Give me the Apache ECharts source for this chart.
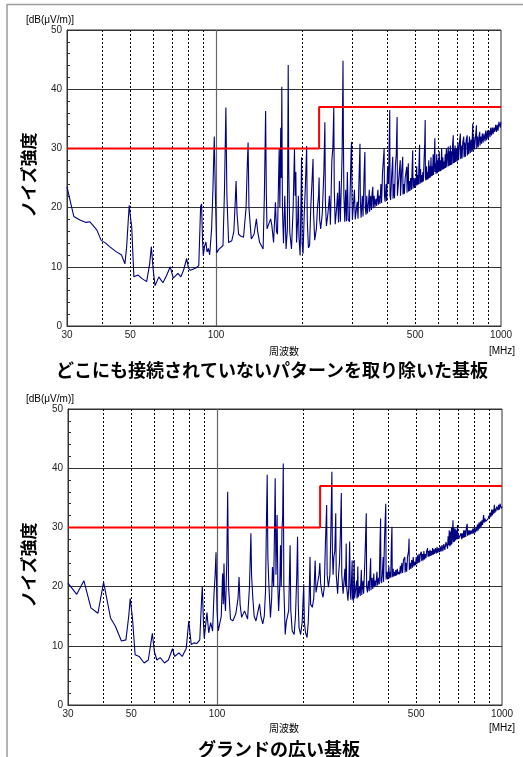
<!DOCTYPE html>
<html><head><meta charset="utf-8">
<script src="https://cdn.jsdelivr.net/npm/echarts@6/dist/echarts.min.js"></script>
<style>html,body{margin:0;padding:0;background:#fff}#c{width:523px;height:757px}</style>
</head><body><div id="c"></div>
<script>
// ---- axis / tick definitions ----
const xLabelValues = [30, 50, 100, 500, 1000];
const majorGridX = [100];
const minorGridX = [40, 50, 60, 70, 80, 90, 200, 300, 400, 500, 600, 700, 800, 900];
// ---- limit line (VCCI) ----
const limitLine = [[30, 30], [230, 30], [230, 37], [1000, 37]];
// ---- titles ----
const title1 = 'どこにも接続されていないパターンを取り除いた基板';
const title2 = 'グランドの広い基板';
const yName = 'ノイズ強度';
const yUnit = '[dB(μV/m)]';
const xName = '周波数';
const xUnit = '[MHz]';

// ---- spectrum 1: [MHz, dB(uV/m)] ----
const spectrum1 = [
[30,23.5],[31,20.5],[31.7,18.5],[33.3,17.9],[35,17.5],[36.1,17.6],[37,17.0],[38.2,16.2],[39.5,14.5],[41,14.0],[42.3,13.4],[44.5,12.6],[46.6,12.0],[47.9,10.5],[48.6,13.5],[49.3,18.5],[49.6,20.4],[50.2,18.0],[50.6,16.8],[51.5,8.3],[53.3,8.6],[55,8.0],[57.1,7.5],[58.5,10.5],[59.3,13.4],[60.2,9.5],[61.1,6.8],[63,8.3],[65.1,7.3],[67,8.5],[69.1,10.0],[70.8,8.1],[73.5,8.9],[75.3,8.3],[77,9.5],[78.9,11.4],[80,9.8],[81.2,9.4],[83,9.6],[85,9.8],[87,10.2],[88.3,20.2],[89,20.6],[89.6,15],[90.2,11.9],[91.2,13.5],[92.2,14.2],[93,12.5],[94,13.1],[95,12.0],[96.5,16.4],[97.5,22.8],[98.6,32],[99.3,24],[100.6,12.4],[102.5,13],[104,13.2],[105.8,13.6],[107.1,23.1],[108.3,36.9],[109.2,22],[110.7,14.1],[113.6,14.4],[115.5,16],[116.8,21],[117.6,24.5],[118.5,19],[120,15.5],[122,15.2],[124.9,15],[127.5,20],[128.7,27],[129.6,31],[130.5,20],[133,14.7],[136,15.5],[138.6,18.1],[140,16],[142.3,14.1],[144.5,13.5],[146.3,13],[147.8,22],[149.3,36.3],[150.2,22],[151,16.4],[153,16.4],[155.5,18.1],[157,17],[159.2,14.1],[161.6,20.9],[163,16],[164.3,15.5],[166.6,29.9],[167.5,20],[168.7,33.5],[169.5,25],[170.2,40.4],[171,20],[172.5,14],[174.3,22],[176.1,13],[178,16.4],[179.2,44.1],[180,26],[181.5,15.8],[184,13],[186.5,20],[188.5,29.9],[189.5,22],[190.6,26],[191.7,14.1],[193.5,18],[194.5,22],[195.5,15],[197.3,11.9],[198.8,22],[199.6,28.5],[200.5,14],[202,12.2],[204,19],[206,24],[208,30.4],[209,18],[211,13.2],[213,13.6],[215,20],[217,24],[219,28.2],[220,19],[222,14.5],[225,16.4],[227,20],[229,22],[230,25.1],[231,18],[233,16.4],[236,19],[239,26],[241,34.4],[242,21],[244,16.9],[247,19],[250,22],[252,17.1],[255,28],[257,30],[259,36.9],[260,23],[262,17.2],[265,20],[267,22.5],[269,17.5],[271,24.5],[273,17.6],[275,23],[277,29],[279,44.8],[280,31],[281,22],[283,17.6],[285,23],[287,17.7],[289,26],[291,18],[294,17.6],[296,24],[298,29.9],[299,31.1],[300,22],[301,17.9],
[303,17.7],[306,23],[308,18],[310,17.8],[313,21],[315,18.1],[318,26],[320,30.8],[321,21],[323,18.3],[326,22],[328,18.5],[331,26],[333,29.4],[334,20],[336,18.8],[338,22],[340,19],[343,21],[345,23],[346,19.3],[349,22],[351,19.6],[353,22.5],[355,23.5],[356,19.9],[359,22],[361,20.1],[364,21.5],[366,20.3],[369,22.5],[370,23],[371,20.5],[374,22],[376,20.6],[379,24],[381,20.8],[384,26],[386,27.5],[389,30],[390,22],[392,21],[395,24],[397,21.1],[400,27],[403,24],[407,36.5],[408,22],[410,21.3],[413,25],[417,28.6],[418,21.5],[421,24],[423,21.6],[426,27],[429,29],[432,35.3],[433,22],[435,21.8],[438,25],[443,28],[444,22],[448,26],[452,28.6],[453,22.2],[456,24],[458,22.3],[461,25],[467,26.9],[468,22.5],[470,25],[473,27.5],[474,22.7],[477,24.5],[479,22.8],[482,25],[485,23],[488,27],[490,29.7],[491,23.2],[494,25],[497,23.3],[500,25],
[503,23.6],[506,27],[508,23.8],[511,25.5],[513,23.9],[516,28],[518,30.6],[519,24],[522,26.5],[524,24.2],[527,25.5],[529,24.3],[532,26],[534,24.4],[537,28],[540,31],[542,34.8],[543,25],[545,24.6],[548,27],[550,24.7],[553,26],[555,24.8],[558,28],[560,25],[563,27],[565,25.1],[568,28.5],[570,25.3],[573,27],[575,25.4],[578,29],[580,25.5],[583,28],[586,31.7],[587,26],[590,27.5],[592,25.7],[595,29],[598,25.8],[601,28],[604,26],[607,29.5],[610,26.1],[613,28],[616,26.2],[619,30],[622,26.4],[625,28.5],[628,26.5],[631,27.8],[634,26.6],[637,29],[640,26.7],[643,30],[646,26.9],[650,29],[653,30.3],[655,27],[658,29.5],[661,27.1],[664,30.5],[667,27.2],[670,29.5],[673,27.3],[676,30.5],[680,32.2],[681,27.5],[684,30],[687,27.6],[690,30.5],[694,27.7],[698,30],[702,27.8],[706,31],[710,28],[715,31],[720,32.5],[722,28.2],[726,30.5],[730,28.3],[734,31],[740,32],[742,28.5],[746,31],[750,28.6],[755,31.5],[761,32.2],[762,28.8],[766,31],[770,29],[775,32],[780,29.2],[785,31.5],[790,29.4],[796,34.2],[798,29.6],[803,32],[808,29.8],[814,32],[820,33.9],[822,30],[827,32],[832,30.2],[837,32],[842,32.8],[844,30.5],[850,32],[855,30.8],[860,32.5],[866,31],[871,32.5],[877,32.2],[879,31.2],[884,33],[890,31.4],[896,33],[902,31.6],[908,33],[913,32.5],[915,31.9],[920,33.5],[926,32.2],[932,33.5],[938,32.4],[944,33.5],[950,32.8],[952,32.6],[958,34],[964,32.8],[970,34],[976,33],[983,34.5],[990,34.8],[994,33.5],[1000,34.5]
];

// ---- spectrum 2: [MHz, dB(uV/m)] ----
const spectrum2 = [
[30,20.6],[32.2,18.7],[34.1,21.0],[36.1,16.4],[38.2,15.5],[40,20.7],[42.3,14.7],[44,13.3],[46.2,10.8],[47.9,11.0],[49,15],[49.6,18.0],[50.5,14.7],[51.6,8.5],[53.3,8.2],[55.5,7.1],[57.4,7.6],[59.3,12.1],[60.3,9],[61.5,7.6],[63.2,8.0],[65.4,7.1],[67.5,7.6],[69.8,9.5],[71,8.2],[73.5,8.8],[75.5,8.2],[78,9.6],[79.6,14.2],[81.2,10.2],[83,10.5],[85,10.4],[87,11.0],[88.3,18],[88.8,20.1],[89.6,14],[90.2,11.3],[92.2,15.6],[93.5,12.2],[95,13.9],[96.5,12.5],
[97.6,18.8],[98.5,22],[99.2,25.8],[100,16],[101,12.5],[102.4,12.5],[103.5,15],[104.6,22.2],[105.2,17],[105.8,23.9],[106.4,18],[107.1,15.9],[108.2,24],[109,36],[109.8,20],[111.5,14.5],[113.6,14.2],[116.4,15.4],[118.5,18],[119.5,21.6],[120.5,17],[122,14.8],[124.9,15.9],[128,14.5],[130,20],[131.5,29],[132.2,22],[133.5,18.2],[135,15],[137,14.2],[139.5,16],[141,17.1],[142.5,15],[144.7,13.7],[146.5,15],[148,19.3],[149,30],[150,38.9],[150.8,25],[152,20.5],[154,14.8],[155.5,18],[156.5,23.3],[158,20],[159.2,30],[160,38.3],[161,22],[162.5,32.1],[163.5,20],[164.5,15.9],[166,20],[167,27],[168,20],[169,29.5],[170,32],[170.8,40.8],[171.6,20],[173.5,11.9],[175,14],[176.5,13.7],[178.5,16],[180.5,27],[181.5,16],[183.6,12.5],[186.5,11.9],[188.5,15],[190.5,22],[191.7,28.4],[192.8,17],[194,13.1],[196.5,11.9],[199,14],[201.5,20.4],[202.5,14],[204.5,12.2],[207,11.4],[209,14],[210.5,18],[212,25],[213,17],[216,16.5],[218.5,18],[220,22],[221,24.4],[222.5,19],[225.5,19.3],[228,22],[229.5,24],[231,20.5],[233.5,19],[235.5,18.2],[238,20],[240,27],[242.5,33.8],[243.5,22],[246,19.9],[249,22],[251,30],[253,39.4],[254,26],[255.5,22],[257,25],[259,26],[261,32.4],[262,22],[265,18.8],[267,22],[269,24],[271,29],[273,35.8],[274,22],[277,18.8],[279,21],[281,23],[282.5,20],[284,27.3],[285,20],[288,17.6],[290,20],[292,27.6],[293.5,19],[295,17.8],[298,24.4],[299,18],[301,17.6],
[303,24.5],[304,18],[306,17.7],[309,21],[310,18],[312,23.4],[313,18.2],[316,20],[318,18.4],[321,22.8],[322,18.6],[325,21],[327,18.8],[330,24],[332,28],[334,32.4],[335,20],[337,19],[340,21],[342,19.2],[346,24.8],[347,19.4],[350,21.5],[352,19.6],[355,22.2],[356,19.9],[359,21],[361,20],[364,22.5],[366,20.2],[369,21.5],[371,20.4],[373,27],[375,31.5],[376,21],[378,20.6],[380,22],[383,25],[384,20.8],[387,28],[389,31],[391,34],[392,21.2],[395,22.5],[397,21.2],[401,23.4],[402,21.4],[405,22.5],[407,21.5],[409,27],[411,30.1],[412,21.6],[415,23],[417,21.7],[420,22.5],[422,21.8],[424,22.8],[426,21.9],[429,23],[431,22],[433,22.5],[436,22.8],[437,22.1],[440,23.5],[442,22.2],[445,24],[448,22.3],[451,24.5],[456,25],[457,22.4],[460,24],[463,22.5],[466,25],[470,26],[472,28.1],[473,22.8],[476,24],[479,23],[482,24.5],[485,23.2],[488,25],[491,23.4],[495,24.2],[497,23.6],[500,25],
[503,23.8],[505,25.3],[508,24],[511,25.5],[514,24.1],[517,25.5],[521,25.9],[523,24.3],[526,25.5],[529,24.4],[532,26],[535,24.6],[538,25.5],[541,24.8],[544,26],[548,26.5],[550,25],[553,26],[556,25.1],[559,26.2],[562,25.2],[565,26],[568,25.3],[571,26.5],[574,25.4],[577,26.3],[580,25.5],[584,26.5],[588,25.6],[592,26.7],[595,25.7],[599,26.5],[603,25.8],[607,26.8],[611,25.9],[616,27],[620,26],[625,27.2],[630,26.2],[636,27.5],[641,27.6],[644,26.4],[647,28.5],[650,27],[653,29.5],[656,26.8],[660,29.3],[662,27],[665,30],[667,27.2],[670,29],[673,31.2],[675,27.5],[678,30],[681,27.6],[685,29.8],[688,27.8],[691,29.5],[694,28],[698,30.4],[700,28],[703,29],[706,28.1],[711,28.4],[714,27.9],[718,29],[722,28],[726,29],[730,28.2],[734,29.5],[738,28.3],[742,29.5],[746,28.4],[750,30],[755,30.6],[757,28.6],[762,29.5],[766,28.7],[770,29.5],[775,28.8],[780,29.5],[785,28.9],[790,29.8],[795,29],[800,30],[805,29.1],[812,30.1],[816,29.3],[820,30.5],[825,29.5],[830,30.8],[835,29.8],[840,31],[845,30.1],[850,31.2],[855,30.4],[862,32.1],[866,30.8],[871,31.5],[877,31],[885,31.2],[890,31.2],[895,31.5],[900,32],[905,31.6],[910,32.5],[915,31.8],[920,33],[925,32],[930,33],[935,32.3],[940,33.8],[944,32.5],[948,33.2],[952,32.7],[958,33.5],[964,33.5],[968,32.9],[972,33.8],[978,33],[984,34],[990,34.3],[994,33.2],[1000,33.5]
];

const numFont = '"Liberation Sans", Arial, sans-serif';
const jpFont = '"Noto Sans CJK JP", sans-serif';

const grids = [
  {left: 67, top: 30, width: 434, height: 296},
  {left: 68, top: 409, width: 434, height: 296}
];

function xAxesFor(gi) {
  return [{
    type: 'log', logBase: 10, gridIndex: gi, min: 30, max: 1000,
    axisLine: {show: true, lineStyle: {color: '#333'}},
    axisTick: {show: false, customValues: majorGridX},
    axisLabel: {customValues: xLabelValues, fontSize: 10, color: '#222', fontFamily: numFont, margin: 4,
      formatter: v => String(Math.round(v))},
    splitLine: {show: true, lineStyle: {color: '#666', width: 1.2}},
    minorTick: {show: false}, minorSplitLine: {show: false}
  }, {
    type: 'log', logBase: 10, gridIndex: gi, min: 30, max: 1000,
    axisLine: {show: false},
    axisTick: {show: false, customValues: minorGridX},
    axisLabel: {show: false},
    splitLine: {show: true, lineStyle: {color: '#000', type: [2, 2], width: 1}},
    minorTick: {show: false}, minorSplitLine: {show: false}
  }];
}
function yAxisFor(gi) {
  return {
    type: 'value', gridIndex: gi, min: 0, max: 50, interval: 10,
    axisLine: {show: true, lineStyle: {color: '#333'}},
    axisTick: {show: true, inside: true, length: 4, lineStyle: {color: '#333'}},
    minorTick: {show: true, splitNumber: 5, length: 3, lineStyle: {color: '#333'}},
    axisLabel: {fontSize: 10, color: '#222', margin: 5, fontFamily: numFont},
    splitLine: {show: true, lineStyle: {color: '#333', width: 1}}
  };
}

function txt(x, y, text, size, opts) {
  return {
    type: 'text', x: x, y: y, silent: true,
    style: Object.assign({text: text, fill: '#000', font: size + 'px ' + jpFont, textAlign: 'center', textVerticalAlign: 'middle'}, opts || {})
  };
}

const chart = echarts.init(document.getElementById('c'), null, {renderer: 'canvas'});
chart.setOption({
  animation: false,
  backgroundColor: '#fff',
  grid: grids.map(g => Object.assign({show: true, borderColor: '#333', borderWidth: 1, backgroundColor: 'transparent'}, g)),
  xAxis: xAxesFor(0).concat(xAxesFor(1)),
  yAxis: [yAxisFor(0), yAxisFor(1)],
  series: [
    {type: 'line', xAxisIndex: 0, yAxisIndex: 0, data: spectrum1, symbol: 'none', color: '#000080', lineStyle: {color: '#000080', width: 1.1}, z: 3},
    {type: 'line', xAxisIndex: 0, yAxisIndex: 0, data: limitLine, symbol: 'none', color: '#ff0000', lineStyle: {color: '#ff0000', width: 2}, z: 4},
    {type: 'line', xAxisIndex: 2, yAxisIndex: 1, data: spectrum2, symbol: 'none', color: '#000080', lineStyle: {color: '#000080', width: 1.1}, z: 3},
    {type: 'line', xAxisIndex: 2, yAxisIndex: 1, data: limitLine, symbol: 'none', color: '#ff0000', lineStyle: {color: '#ff0000', width: 2}, z: 4}
  ],
  graphic: [
    {type: 'line', shape: {x1: 7, y1: 4.5, x2: 523, y2: 4.5}, style: {stroke: '#9a9a9a', lineWidth: 1.5}, silent: true},
    {type: 'line', shape: {x1: 7, y1: 4, x2: 7, y2: 757}, style: {stroke: '#9a9a9a', lineWidth: 1.5}, silent: true},
    txt(50, 20, yUnit, 10, {font: '10px ' + numFont}),
    txt(50, 399, yUnit, 10, {font: '10px ' + numFont}),
    Object.assign(txt(29, 175, yName, 17, {font: 'bold 17px ' + jpFont}), {rotation: Math.PI / 2}),
    Object.assign(txt(29, 565, yName, 17, {font: 'bold 17px ' + jpFont}), {rotation: Math.PI / 2}),
    txt(284, 351, xName, 10),
    txt(502, 351, xUnit, 10, {font: '10px ' + numFont}),
    txt(284, 728, xName, 10),
    txt(502, 728, xUnit, 10, {font: '10px ' + numFont}),
    txt(272, 370, title1, 18, {font: 'bold 18px ' + jpFont}),
    txt(279, 749, title2, 18, {font: 'bold 18px ' + jpFont})
  ]
});
</script>
</body></html>
